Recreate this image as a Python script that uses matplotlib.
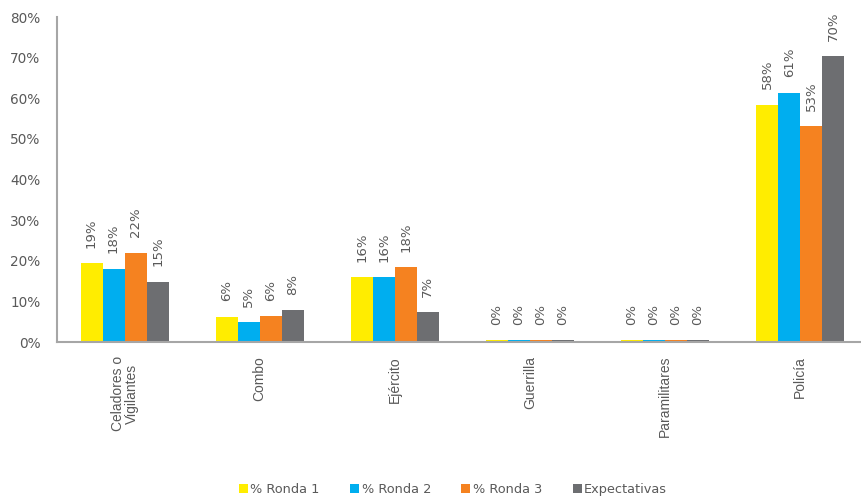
import matplotlib.pyplot as plt
import numpy as np

# Datos por categoria (porcentaje)
categorias = ["Celadores o\nVigilantes", "Combo", "Ejército", "Guerrilla", "Paramilitares", "Policía"]
ronda1 = [19.4, 6.2, 16.0, 0.4, 0.4, 58.4]
ronda2 = [18.0, 4.9, 16.0, 0.4, 0.4, 61.4]
ronda3 = [22.0, 6.4, 18.4, 0.4, 0.4, 53.1]
expectativas = [14.8, 7.8, 7.3, 0.4, 0.4, 70.3]

series = ["% Ronda 1", "% Ronda 2", "% Ronda 3", "Expectativas"]
colores = ["#FFED00", "#00AEEF", "#F58220", "#6D6E71"]
texto = "#595959"

plt.rcParams['font.family'] = ['DejaVu Sans']

fig = plt.figure(figsize=(8.61, 4.99), dpi=100)
ax = fig.add_axes([0.0662, 0.3146, 0.9338, 0.6513])

x = np.arange(len(categorias))
ancho = 0.163
datos = [ronda1, ronda2, ronda3, expectativas]
for i, (vals, nombre, col) in enumerate(zip(datos, series, colores)):
    pos = x + (i - 1.5) * ancho
    ax.bar(pos, vals, ancho, color=col, label=nombre)
    for xp, v in zip(pos, vals):
        ax.text(xp, v + 3.8, "%d%%" % round(v), rotation=90, ha="center", va="bottom",
                fontsize=9.5, color=texto)

ax.set_ylim(0, 80)
ax.set_xlim(-0.5, 5.45)
ax.set_yticks(range(0, 81, 10))
ax.set_yticklabels(["%d%%" % t for t in range(0, 81, 10)], fontsize=9.8, color=texto)
ax.set_xticks(x)
ax.set_xticklabels(categorias, rotation=90, va="top", ha="center", fontsize=10,
                   color=texto, linespacing=1.0, family="Liberation Sans")
ax.tick_params(axis="both", length=0)
ax.tick_params(axis="y", pad=12)
ax.tick_params(axis="x", pad=10)

for s in ["top", "right"]:
    ax.spines[s].set_visible(False)
for s in ["left", "bottom"]:
    ax.spines[s].set_color("#A6A6A6")
    ax.spines[s].set_linewidth(1.5)

fig.legend(loc="lower center", bbox_to_anchor=(0.526, -0.018), ncol=4, frameon=False,
           fontsize=9.3, handlelength=0.7, handleheight=0.7, handletextpad=0.2,
           columnspacing=2.35, labelcolor=texto)

fig.savefig("out.png", dpi=100)
